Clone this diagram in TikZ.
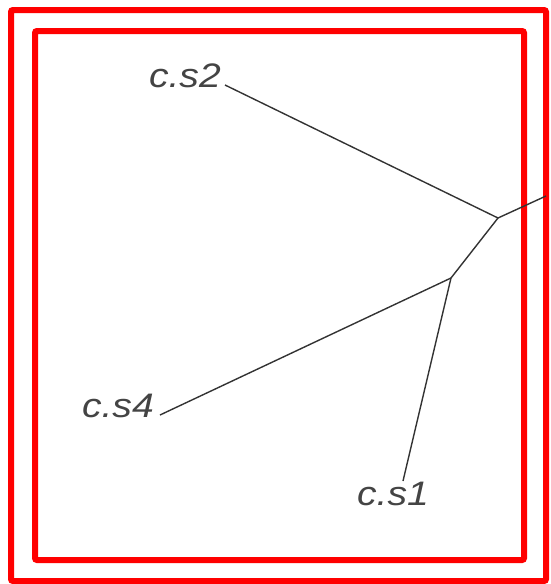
\documentclass[tikz,border=0pt]{standalone}
\usepackage{fontspec}
\setmainfont{Liberation Sans}
\usepackage{xcolor}
\definecolor{framered}{HTML}{FF0000}
\definecolor{treegray}{HTML}{333333}
\definecolor{labelgray}{HTML}{444444}
\usetikzlibrary{positioning}

\begin{document}
\begin{tikzpicture}[
    x=1pt, y=-1pt,
    frame/.style={draw=framered, line width=6pt, rounded corners=2pt},
    branch/.style={draw=treegray, line width=1.4pt},
    leaf/.style={inner sep=0pt, text=labelgray, xscale=1.15,
                 font=\fontsize{34}{38}\selectfont\itshape}
  ]
    \useasboundingbox (0,0) rectangle (550,584);
    % frames
    \draw[frame] (11,10) rectangle (546,581);
    \draw[frame] (35,31) rectangle (524,560);
    % tree
    \coordinate (root) at (546,196);
    \coordinate (j1) at (498,218);
    \coordinate (j2) at (451,278);
    \coordinate (e2) at (225,85);
    \coordinate (e4) at (160,415);
    \coordinate (e1) at (403,481);
    \node[leaf, anchor=south east] (cs2) at (221,88) {c.s2};
    \node[leaf, anchor=south east] (cs4) at (154,418) {c.s4};
    \node[leaf, anchor=south] (cs1) at (393,506) {c.s1};
    \draw[branch] (root) -- (j1);
    \draw[branch] (j1) -- (e2);
    \draw[branch] (j1) -- (j2);
    \draw[branch] (j2) -- (e4);
    \draw[branch] (j2) -- (e1);
  \end{tikzpicture}
\end{document}
